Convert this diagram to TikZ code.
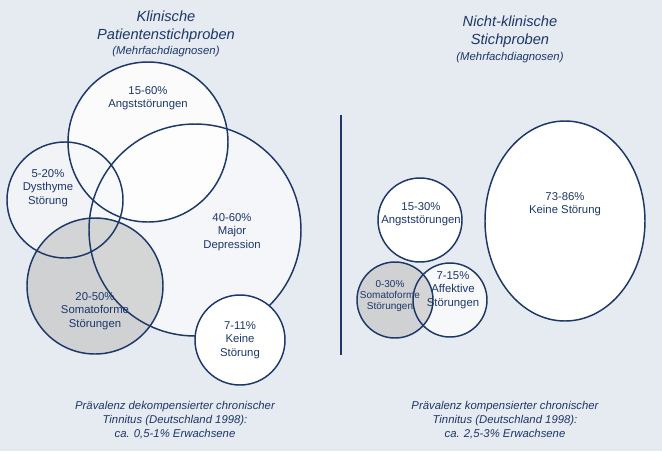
\documentclass[tikz,border=0pt]{standalone}
\usepackage{fontspec}
\setmainfont{Liberation Sans}
\begin{document}
\begin{tikzpicture}[x=0.75pt,y=-0.75pt,
  circ/.style={draw=navy,line width=1.1pt},
  lab/.style={text=navy,align=center,font=\fontsize{8.5}{10}\selectfont},
  ttl/.style={text=navy,align=center,font=\itshape\fontsize{11}{13.5}\selectfont},
  sub/.style={text=navy,align=center,font=\itshape\fontsize{8.5}{10.5}\selectfont}]
\definecolor{navy}{HTML}{1C3768}
\definecolor{bg}{HTML}{E6EAF1}
\fill[bg] (0,0) rectangle (662,451);
% left fills
\fill[fill=white,fill opacity=0.6] (195,230) circle (106);
\fill[fill=white,fill opacity=0.85] (148,142) circle (80);
\fill[fill=white!85!navy!25,fill opacity=0.7] (65,200) circle (58);
\fill[fill=black!22,fill opacity=0.7] (95,286) circle (68);
\draw[circ] (195,230) circle (106);
\draw[circ] (148,142) circle (80);
\draw[circ] (65,200) circle (58);
\draw[circ] (95,286) circle (68);
\filldraw[circ,fill=white] (240,340) circle (45);
% right
\fill[white] (565,221) ellipse (80 and 100);
\fill[white] (420,220) circle (42);
\fill[fill=white,fill opacity=0.7] (450,300) circle (37);
\fill[fill=black!22,fill opacity=0.7] (395,300) circle (38);
\draw[circ] (565,221) ellipse (80 and 100);
\draw[circ] (420,220) circle (42);
\draw[circ] (450,300) circle (37);
\draw[circ] (395,300) circle (38);
\draw[navy,line width=0.8pt] (341,115) coordinate (d1) -- (341,355) coordinate (d2);
% texts
\node[ttl] (t1) at (166,27) {Klinische\\Patientenstichproben};
\node[sub] (s1) at (166,52) {(Mehrfachdiagnosen)};
\node[ttl] (t2) at (510,32) {Nicht-klinische\\Stichproben};
\node[sub] (s2) at (510,58) {(Mehrfachdiagnosen)};
\node[lab] (a1) at (148,98) {15-60\%\\Angststörungen};
\node[lab] (a2) at (48,188) {5-20\%\\Dysthyme\\Störung};
\node[lab] (a3) at (232,232) {40-60\%\\Major\\Depression};
\node[lab] (a4) at (95,311) {20-50\%\\Somatoforme\\Störungen};
\node[lab] (a5) at (240,340) {7-11\%\\Keine\\Störung};
\node[lab] (b1) at (421,214) {15-30\%\\Angststörungen};
\node[lab,font=\fontsize{7.5}{8.5}\selectfont] (b2) at (390,296) {0-30\%\\Somatoforme\\Störungen};
\node[lab] (b3) at (453,290) {7-15\%\\Affektive\\Störungen};
\node[lab] (b4) at (565,204) {73-86\%\\Keine Störung};
\node[sub] (f1) at (175,420) {Prävalenz dekompensierter chronischer\\Tinnitus (Deutschland 1998):\\ca. 0,5-1\% Erwachsene};
\node[sub] (f2) at (505,420) {Prävalenz kompensierter chronischer\\Tinnitus (Deutschland 1998):\\ca. 2,5-3\% Erwachsene};
\end{tikzpicture}
\end{document}
